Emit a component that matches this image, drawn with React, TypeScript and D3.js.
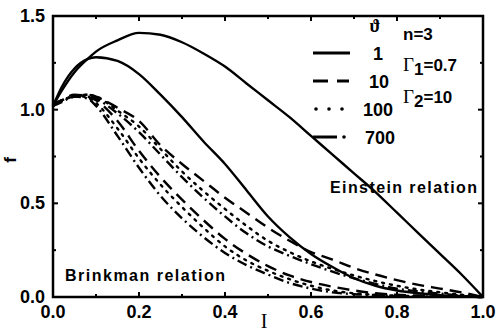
import React from 'react';
import * as d3 from 'd3';

// I values shared by every curve
const iValues = [0, 0.02, 0.05, 0.08, 0.1, 0.15, 0.2, 0.25, 0.3, 0.35, 0.4, 0.45, 0.5, 0.55, 0.6, 0.65, 0.7, 0.75, 0.8, 0.85, 0.9, 0.95, 1.0];

// Einstein relation
const solidE = [1.02, 1.1, 1.2, 1.27, 1.31, 1.37, 1.41, 1.4, 1.36, 1.3, 1.23, 1.14, 1.05, 0.96, 0.86, 0.76, 0.66, 0.56, 0.45, 0.34, 0.23, 0.12, 0];
const dashedE = [1.03, 1.05, 1.07, 1.08, 1.07, 1.01, 0.94, 0.81, 0.71, 0.62, 0.53, 0.45, 0.37, 0.3, 0.24, 0.2, 0.155, 0.12, 0.09, 0.065, 0.045, 0.025, 0];
const dottedE = [1.03, 1.05, 1.07, 1.08, 1.07, 0.995, 0.91, 0.79, 0.67, 0.565, 0.47, 0.38, 0.3, 0.24, 0.19, 0.15, 0.115, 0.085, 0.06, 0.04, 0.025, 0.012, 0];
const dashDotE = [1.03, 1.05, 1.07, 1.08, 1.06, 0.98, 0.88, 0.76, 0.64, 0.53, 0.43, 0.34, 0.27, 0.22, 0.175, 0.135, 0.1, 0.07, 0.045, 0.03, 0.018, 0.008, 0];

// Brinkman relation
const solidB = [1.02, 1.12, 1.22, 1.27, 1.28, 1.26, 1.19, 1.08, 0.96, 0.83, 0.71, 0.57, 0.43, 0.32, 0.23, 0.16, 0.1, 0.06, 0.035, 0.02, 0.01, 0.005, 0];
const dashedB = [1.02, 1.05, 1.08, 1.07, 1.05, 0.94, 0.78, 0.64, 0.52, 0.41, 0.31, 0.23, 0.165, 0.115, 0.08, 0.055, 0.035, 0.02, 0.012, 0.008, 0.005, 0.002, 0];
const dottedB = [1.02, 1.045, 1.075, 1.065, 1.035, 0.9, 0.74, 0.6, 0.48, 0.37, 0.27, 0.195, 0.14, 0.095, 0.06, 0.035, 0.02, 0.012, 0.007, 0.004, 0.002, 0.001, 0];
const dashDotB = [1.02, 1.04, 1.07, 1.06, 1.02, 0.86, 0.69, 0.54, 0.42, 0.32, 0.235, 0.17, 0.12, 0.075, 0.045, 0.025, 0.015, 0.01, 0.005, 0.003, 0.002, 0.001, 0];

const legendLabels = ['1', '10', '100', '700'];
const xTickLabels = ['0.0', '0.2', '0.4', '0.6', '0.8', '1.0'];
const yTickLabels = ['0.0', '0.5', '1.0', '1.5'];

const dashes: Record<string, string | undefined> = {
  solid: undefined,
  dashed: '12 7',
  dotted: '2 6',
  dashdot: '10 4 2 4',
};

const series = [
  { values: solidE, style: 'solid' },
  { values: solidB, style: 'solid' },
  { values: dashedE, style: 'dashed' },
  { values: dashedB, style: 'dashed' },
  { values: dottedE, style: 'dotted' },
  { values: dottedB, style: 'dotted' },
  { values: dashDotE, style: 'dashdot' },
  { values: dashDotB, style: 'dashdot' },
];

const legendStyles = ['solid', 'dashed', 'dotted', 'dashdot'];

const W = 497;
const H = 333;

export default function App() {
  const x = d3.scaleLinear().domain([0, 1]).range([53, 483]);
  const y = d3.scaleLinear().domain([0, 1.5]).range([297, 16]);

  const line = d3
    .line<number>()
    .x((_, i) => x(iValues[i]))
    .y((d) => y(d))
    .curve(d3.curveMonotoneX);

  const sans = 'Liberation Sans, Arial, sans-serif';
  const serif = 'Liberation Serif, Times New Roman, serif';

  const xMinor = d3.range(0, 1.0001, 0.1);
  const yMinor = d3.range(0, 1.5001, 0.25);

  return (
    <svg width={W} height={H} style={{ position: 'absolute', left: 0, top: 0, background: '#fff' }}>
      {/* curves */}
      {series.map((s, i) => (
        <path
          key={i}
          d={line(s.values) || ''}
          fill="none"
          stroke="#000"
          strokeWidth={2.4}
          strokeDasharray={dashes[s.style]}
          strokeLinecap={s.style === 'dotted' ? 'round' : 'butt'}
        />
      ))}

      {/* frame */}
      <rect
        x={x(0)}
        y={y(1.5)}
        width={x(1) - x(0)}
        height={y(0) - y(1.5)}
        fill="none"
        stroke="#000"
        strokeWidth={2.5}
      />

      {/* inward ticks */}
      {xMinor.map((t, i) => (
        <g key={'xt' + i}>
          <line x1={x(t)} x2={x(t)} y1={y(0)} y2={y(0) - (i % 2 === 0 ? 5 : 3)} stroke="#000" strokeWidth={2} />
          <line x1={x(t)} x2={x(t)} y1={y(1.5)} y2={y(1.5) + (i % 2 === 0 ? 5 : 3)} stroke="#000" strokeWidth={2} />
        </g>
      ))}
      {yMinor.map((t, i) => (
        <g key={'yt' + i}>
          <line x1={x(0)} x2={x(0) + (i % 2 === 0 ? 5 : 3)} y1={y(t)} y2={y(t)} stroke="#000" strokeWidth={2} />
          <line x1={x(1)} x2={x(1) - (i % 2 === 0 ? 5 : 3)} y1={y(t)} y2={y(t)} stroke="#000" strokeWidth={2} />
        </g>
      ))}

      {/* tick labels */}
      {xTickLabels.map((l) => (
        <text key={'xl' + l} x={x(+l)} y={318} textAnchor="middle" fontFamily={sans} fontWeight="bold" fontSize={18}>
          {l}
        </text>
      ))}
      {yTickLabels.map((l) => (
        <text key={'yl' + l} x={45} y={y(+l) + 6} textAnchor="end" fontFamily={sans} fontWeight="bold" fontSize={18}>
          {l}
        </text>
      ))}

      {/* axis titles */}
      <text x={264} y={328} textAnchor="middle" fontFamily={serif} fontSize={20}>
        I
      </text>
      <text transform="translate(16,160) rotate(-90)" textAnchor="middle" fontFamily={sans} fontWeight="bold" fontSize={17}>
        f
      </text>

      {/* legend */}
      <text x={375} y={32} textAnchor="middle" fontFamily={serif} fontWeight="bold" fontSize={18}>
        ϑ
      </text>
      {legendStyles.map((st, i) => {
        const ly = 53 + i * 28;
        return (
          <g key={'lg' + st}>
            {st === 'solid' && <line x1={313} x2={350} y1={ly} y2={ly} stroke="#000" strokeWidth={3} />}
            {st === 'dashed' && (
              <>
                <line x1={313} x2={328} y1={ly} y2={ly} stroke="#000" strokeWidth={3} />
                <line x1={337} x2={349} y1={ly} y2={ly} stroke="#000" strokeWidth={3} />
              </>
            )}
            {st === 'dotted' &&
              [316, 329, 342].map((cx) => <circle key={cx} cx={cx} cy={ly} r={1.8} fill="#000" />)}
            {st === 'dashdot' && (
              <>
                <line x1={313} x2={337} y1={ly} y2={ly} stroke="#000" strokeWidth={3} />
                <circle cx={344} cy={ly} r={1.8} fill="#000" />
              </>
            )}
            <text
              x={[383, 389, 393, 395][i]}
              y={ly + 6.5}
              textAnchor="end"
              fontFamily={sans}
              fontWeight="bold"
              fontSize={18}
            >
              {legendLabels[i]}
            </text>
          </g>
        );
      })}

      {/* parameters */}
      <text x={403} y={40} fontFamily={sans} fontWeight="bold" fontSize={17}>
        n=3
      </text>
      <text x={403} y={71} fontFamily={sans} fontWeight="bold" fontSize={17}>
        <tspan fontFamily={serif} fontWeight="normal" fontSize={19}>Γ</tspan>
        <tspan dy={4}>1</tspan>
        <tspan dy={-4}>=0.7</tspan>
      </text>
      <text x={403} y={103} fontFamily={sans} fontWeight="bold" fontSize={17}>
        <tspan fontFamily={serif} fontWeight="normal" fontSize={19}>Γ</tspan>
        <tspan dy={4}>2</tspan>
        <tspan dy={-4}>=10</tspan>
      </text>

      {/* relation labels */}
      <text x={330} y={193} fontFamily={sans} fontWeight="bold" fontSize={16} textLength={147} lengthAdjust="spacing">
        Einstein relation
      </text>
      <text x={65} y={281} fontFamily={sans} fontWeight="bold" fontSize={16} textLength={160} lengthAdjust="spacing">
        Brinkman relation
      </text>
    </svg>
  );
}
